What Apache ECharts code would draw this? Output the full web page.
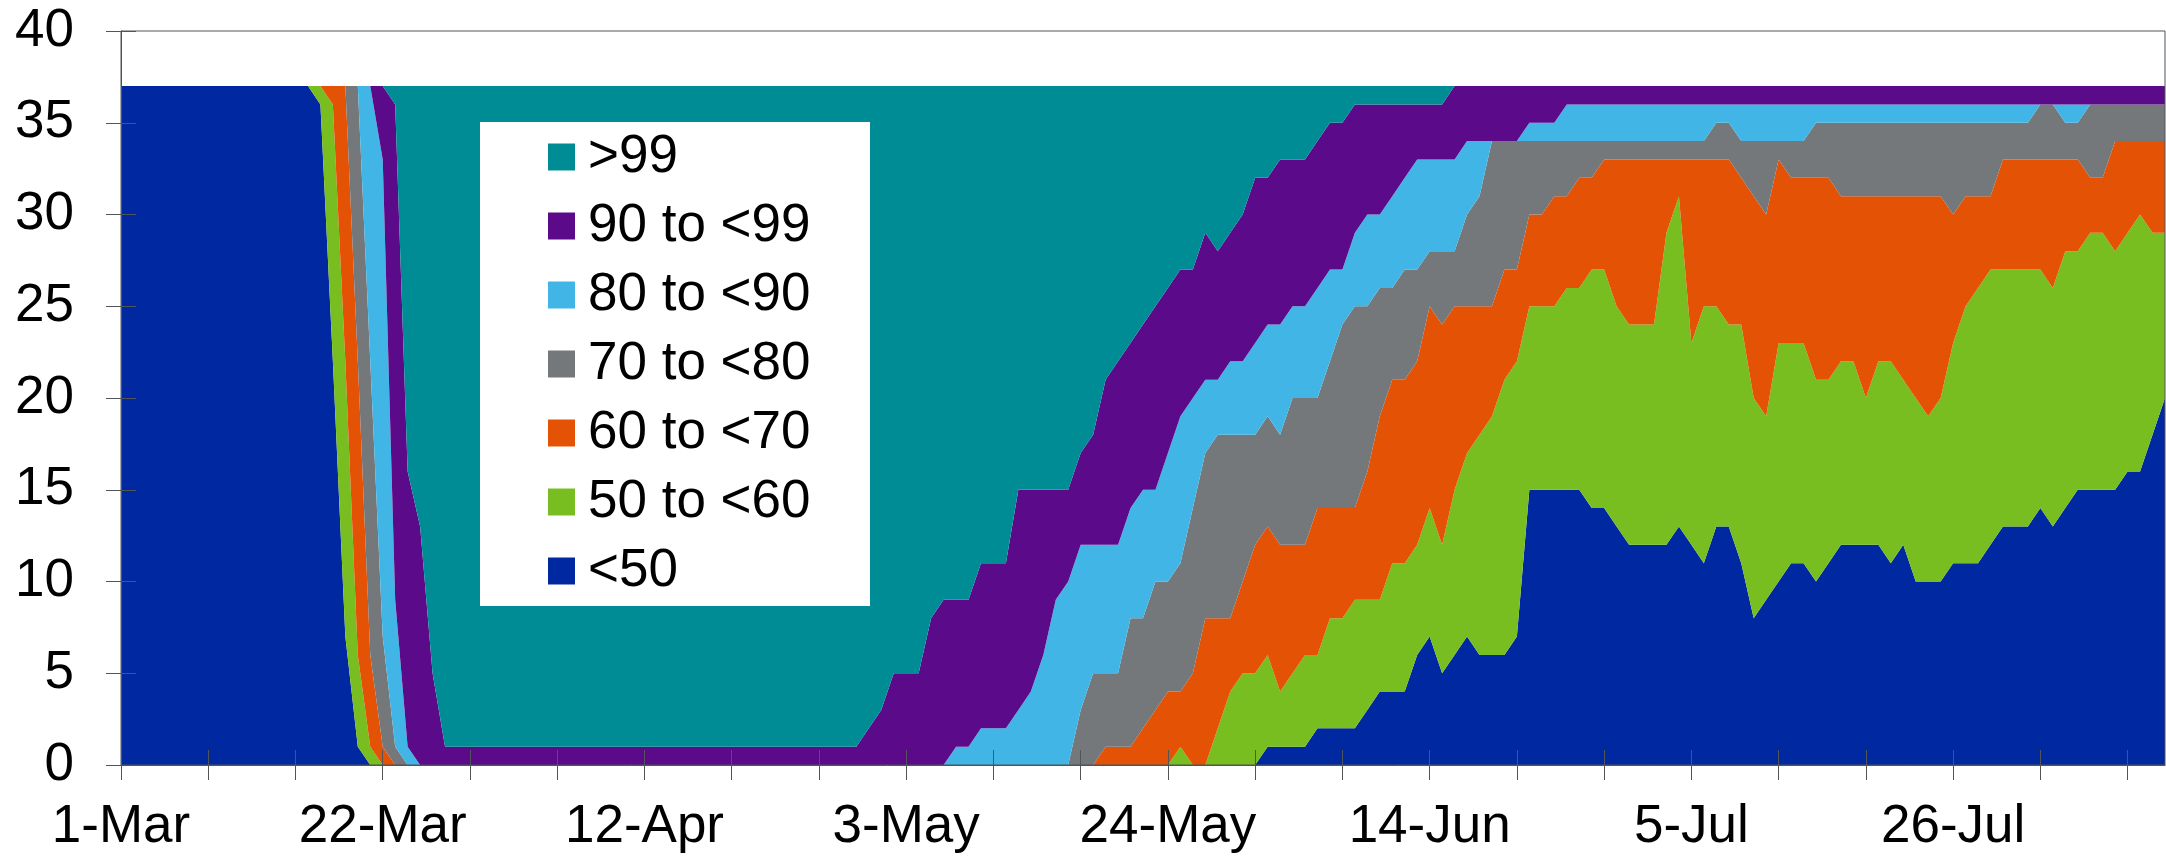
<!DOCTYPE html>
<html>
<head>
<meta charset="utf-8">
<script src="https://cdn.jsdelivr.net/npm/echarts@6/dist/echarts.min.js"></script>
<style>
html,body{margin:0;padding:0;background:#fff;}
#chart{width:2166px;height:857px;}
</style>
</head>
<body>
<div id="chart"></div>
<script>
const categories = [
'1-Mar','2-Mar','3-Mar','4-Mar','5-Mar','6-Mar','7-Mar','8-Mar','9-Mar','10-Mar',
'11-Mar','12-Mar','13-Mar','14-Mar','15-Mar','16-Mar','17-Mar','18-Mar','19-Mar','20-Mar',
'21-Mar','22-Mar','23-Mar','24-Mar','25-Mar','26-Mar','27-Mar','28-Mar','29-Mar','30-Mar','31-Mar',
'1-Apr','2-Apr','3-Apr','4-Apr','5-Apr','6-Apr','7-Apr','8-Apr','9-Apr','10-Apr',
'11-Apr','12-Apr','13-Apr','14-Apr','15-Apr','16-Apr','17-Apr','18-Apr','19-Apr','20-Apr',
'21-Apr','22-Apr','23-Apr','24-Apr','25-Apr','26-Apr','27-Apr','28-Apr','29-Apr','30-Apr',
'1-May','2-May','3-May','4-May','5-May','6-May','7-May','8-May','9-May','10-May',
'11-May','12-May','13-May','14-May','15-May','16-May','17-May','18-May','19-May','20-May',
'21-May','22-May','23-May','24-May','25-May','26-May','27-May','28-May','29-May','30-May','31-May',
'1-Jun','2-Jun','3-Jun','4-Jun','5-Jun','6-Jun','7-Jun','8-Jun','9-Jun','10-Jun',
'11-Jun','12-Jun','13-Jun','14-Jun','15-Jun','16-Jun','17-Jun','18-Jun','19-Jun','20-Jun',
'21-Jun','22-Jun','23-Jun','24-Jun','25-Jun','26-Jun','27-Jun','28-Jun','29-Jun','30-Jun',
'1-Jul','2-Jul','3-Jul','4-Jul','5-Jul','6-Jul','7-Jul','8-Jul','9-Jul','10-Jul',
'11-Jul','12-Jul','13-Jul','14-Jul','15-Jul','16-Jul','17-Jul','18-Jul','19-Jul','20-Jul',
'21-Jul','22-Jul','23-Jul','24-Jul','25-Jul','26-Jul','27-Jul','28-Jul','29-Jul','30-Jul','31-Jul',
'1-Aug','2-Aug','3-Aug','4-Aug','5-Aug','6-Aug','7-Aug','8-Aug','9-Aug','10-Aug',
'11-Aug','12-Aug'
];

const seriesNames = ['<50','50 to <60','60 to <70','70 to <80','80 to <90','90 to <99','>99'];

const lt50 = [
37,37,37,37,37,37,37,37,37,37,
37,37,37,37,37,37,36,22,7,1,
0,0,0,0,0,0,0,0,0,0,
0,0,0,0,0,0,0,0,0,0,
0,0,0,0,0,0,0,0,0,0,
0,0,0,0,0,0,0,0,0,0,
0,0,0,0,0,0,0,0,0,0,
0,0,0,0,0,0,0,0,0,0,
0,0,0,0,0,0,0,0,0,0,
0,0,1,1,1,1,2,2,2,2,
3,4,4,4,6,7,5,6,7,6,
6,6,7,15,15,15,15,15,14,14,
13,12,12,12,12,13,12,11,13,13,
11,8,9,10,11,11,10,11,12,12,
12,12,11,12,10,10,10,11,11,11,
12,13,13,13,14,13,14,15,15,15,
15,16,16,18,20
];

const p50to60 = [
0,0,0,0,0,0,0,0,0,0,
0,0,0,0,0,0,1,14,15,5,
1,0,0,0,0,0,0,0,0,0,
0,0,0,0,0,0,0,0,0,0,
0,0,0,0,0,0,0,0,0,0,
0,0,0,0,0,0,0,0,0,0,
0,0,0,0,0,0,0,0,0,0,
0,0,0,0,0,0,0,0,0,0,
0,0,0,0,0,1,0,0,2,4,
5,5,5,3,4,5,4,6,6,7,
6,5,7,7,6,7,7,9,10,12,
13,15,15,10,10,10,11,11,13,13,
12,12,12,12,17,18,11,14,12,11,
13,12,10,13,12,12,11,10,10,10,
8,10,11,9,10,9,10,12,14,15,
15,14,14,14,13,13,14,13,14,14,
13,13,14,11,9
];

const p60to70 = [
0,0,0,0,0,0,0,0,0,0,
0,0,0,0,0,0,0,1,15,16,
5,1,0,0,0,0,0,0,0,0,
0,0,0,0,0,0,0,0,0,0,
0,0,0,0,0,0,0,0,0,0,
0,0,0,0,0,0,0,0,0,0,
0,0,0,0,0,0,0,0,0,0,
0,0,0,0,0,0,0,0,0,1,
1,1,2,3,4,3,5,8,6,4,
5,7,7,8,7,6,8,6,6,5,
7,10,10,10,10,11,12,10,8,7,
6,6,5,5,5,6,5,6,5,6,
8,9,9,9,4,2,10,8,8,9,
8,11,11,10,9,9,11,11,9,9,
11,9,9,10,11,12,11,7,6,5,
4,6,6,6,6,7,5,5,3,3,
6,5,4,5,5
];

const p70to80 = [
0,0,0,0,0,0,0,0,0,0,
0,0,0,0,0,0,0,0,0,15,
16,6,1,0,0,0,0,0,0,0,
0,0,0,0,0,0,0,0,0,0,
0,0,0,0,0,0,0,0,0,0,
0,0,0,0,0,0,0,0,0,0,
0,0,0,0,0,0,0,0,0,0,
0,0,0,0,0,0,0,3,5,4,
4,7,6,7,6,7,9,9,10,10,
8,6,6,6,8,8,6,8,10,11,
9,7,5,6,5,3,4,3,5,6,
9,7,7,4,4,3,3,2,2,1,
1,1,1,1,1,1,1,1,2,2,
2,3,4,1,2,2,3,3,4,4,
4,4,4,4,4,4,4,5,4,4,
4,2,2,2,3,3,2,2,4,4,
2,2,2,2,2
];

const p80to90 = [
0,0,0,0,0,0,0,0,0,0,
0,0,0,0,0,0,0,0,0,0,
15,26,8,1,0,0,0,0,0,0,
0,0,0,0,0,0,0,0,0,0,
0,0,0,0,0,0,0,0,0,0,
0,0,0,0,0,0,0,0,0,0,
0,0,0,0,0,0,0,1,1,2,
2,2,3,4,6,9,10,9,7,7,
7,6,7,5,7,8,6,4,3,4,
4,5,5,6,5,5,6,5,3,4,
5,4,5,5,6,5,5,5,4,3,
0,0,0,1,1,1,2,2,2,2,
2,2,2,2,2,2,2,2,1,1,
2,2,2,2,2,2,1,1,1,1,
1,1,1,1,1,1,1,1,1,1,
1,1,1,1,0,0,1,1,0,0,
0,0,0,0,0
];

const p90to99 = [
0,0,0,0,0,0,0,0,0,0,
0,0,0,0,0,0,0,0,0,0,
0,4,27,15,13,5,1,1,1,1,
1,1,1,1,1,1,1,1,1,1,
1,1,1,1,1,1,1,1,1,1,
1,1,1,1,1,1,1,1,1,1,
2,3,5,5,5,8,9,8,8,9,
9,9,12,11,9,6,5,5,6,9,
10,9,9,10,9,8,7,8,7,7,
8,9,8,9,8,8,8,8,8,7,
6,6,5,4,3,3,3,4,3,3,
3,3,3,2,2,2,1,1,1,1,
1,1,1,1,1,1,1,1,1,1,
1,1,1,1,1,1,1,1,1,1,
1,1,1,1,1,1,1,1,1,1,
1,1,1,1,1,1,1,1,1,1,
1,1,1,1,1
];

const gt99 = [
0,0,0,0,0,0,0,0,0,0,
0,0,0,0,0,0,0,0,0,0,
0,0,1,21,24,32,36,36,36,36,
36,36,36,36,36,36,36,36,36,36,
36,36,36,36,36,36,36,36,36,36,
36,36,36,36,36,36,36,36,36,36,
35,34,32,32,32,29,28,28,28,26,
26,26,22,22,22,22,22,20,19,16,
15,14,13,12,11,10,10,8,9,8,
7,5,5,4,4,4,3,2,2,1,
1,1,1,1,1,1,1,0,0,0,
0,0,0,0,0,0,0,0,0,0,
0,0,0,0,0,0,0,0,0,0,
0,0,0,0,0,0,0,0,0,0,
0,0,0,0,0,0,0,0,0,0,
0,0,0,0,0,0,0,0,0,0,
0,0,0,0,0
];

const yTicks = [0,5,10,15,20,25,30,35,40];

const seriesData = [lt50, p50to60, p60to70, p70to80, p80to90, p90to99, gt99];
const seriesColors = ['#0028A0','#78BE20','#E35205','#75787B','#41B6E6','#5B0A8A','#008C95'];

const FONT = '"Liberation Sans", Arial, Helvetica, sans-serif';
const AXIS_COLOR = '#50555a';
const FS = 53;

const chart = echarts.init(document.getElementById('chart'), null, {renderer: 'canvas'});

const series = seriesNames.map((name, i) => ({
  name: name,
  type: 'line',
  stack: 'total',
  data: seriesData[i],
  symbol: 'none',
  showSymbol: false,
  smooth: false,
  color: seriesColors[i],
  lineStyle: {width: 0, color: seriesColors[i]},
  itemStyle: {color: seriesColors[i]},
  areaStyle: {color: seriesColors[i], opacity: 1},
  emphasis: {disabled: true},
  z: 2
}));

const option = {
  animation: false,
  backgroundColor: '#ffffff',
  grid: {
    left: 121, right: 1, top: 31, bottom: 92,
    show: true, borderColor: AXIS_COLOR, borderWidth: 1,
    backgroundColor: 'transparent',
    containLabel: false, outerBoundsMode: 'none',
    z: 10
  },
  graphic: [{
    type: 'rect', left: 480, top: 122, z: 3,
    shape: {width: 390, height: 484},
    style: {fill: '#ffffff'}
  }],
  legend: {
    orient: 'vertical', left: 548, top: 129, padding: 0,
    itemWidth: 27, itemHeight: 27, itemGap: 13, icon: 'rect',
    selectedMode: false,
    data: seriesNames.slice().reverse(),
    textStyle: {fontFamily: FONT, fontSize: FS, lineHeight: 56, color: '#000', padding: [0,0,0,8]},
    z: 5
  },
  xAxis: [{
    type: 'category', data: categories, boundaryGap: false, position: 'bottom', z: 10,
    axisLine: {show: true, lineStyle: {color: AXIS_COLOR, width: 1}},
    axisTick: {show: true, inside: true, length: 15, interval: 6, lineStyle: {color: AXIS_COLOR, width: 1}},
    axisLabel: {show: false},
    splitLine: {show: false}
  }, {
    type: 'category', data: categories, boundaryGap: false, position: 'bottom', offset: 0, z: 10,
    axisLine: {show: false},
    axisTick: {show: true, inside: false, length: 15, interval: 6, lineStyle: {color: AXIS_COLOR, width: 1}},
    axisLabel: {show: true, interval: 20, margin: 36, fontFamily: FONT, fontSize: FS, color: '#000'},
    splitLine: {show: false}
  }],
  yAxis: [{
    type: 'value', min: yTicks[0], max: yTicks[yTicks.length - 1], interval: yTicks[1] - yTicks[0],
    position: 'left', z: 10,
    axisLine: {show: true, lineStyle: {color: AXIS_COLOR, width: 1}},
    axisTick: {show: true, inside: true, length: 15, lineStyle: {color: AXIS_COLOR, width: 1}},
    axisLabel: {show: false},
    splitLine: {show: false}
  }, {
    type: 'value', min: yTicks[0], max: yTicks[yTicks.length - 1], interval: yTicks[1] - yTicks[0],
    position: 'left', offset: 0, z: 10,
    axisLine: {show: false},
    axisTick: {show: true, inside: false, length: 15, lineStyle: {color: AXIS_COLOR, width: 1}},
    axisLabel: {show: true, margin: 47, fontFamily: FONT, fontSize: FS, color: '#000'},
    splitLine: {show: false}
  }],
  series: series
};

chart.setOption(option);
</script>
</body>
</html>
